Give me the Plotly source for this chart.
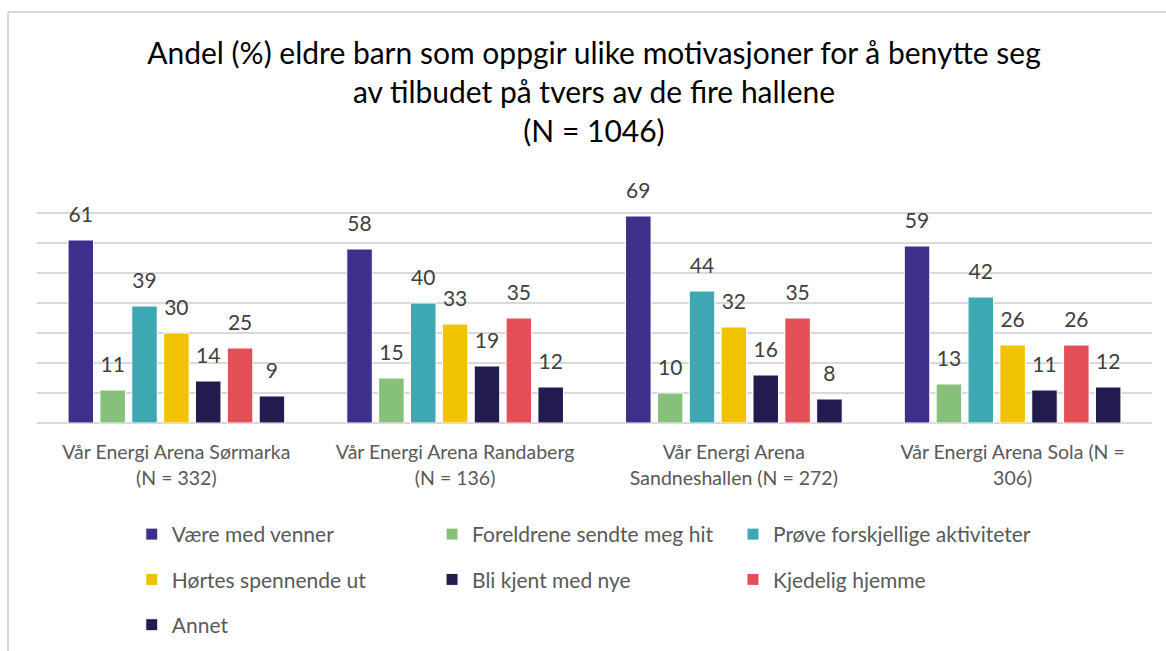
import plotly.graph_objects as go

categories = [
    "Vår Energi Arena Sørmarka<br>(N = 332)",
    "Vår Energi Arena Randaberg<br>(N = 136)",
    "Vår Energi Arena<br>Sandneshallen (N = 272)",
    "Vår Energi Arena Sola (N =<br>306)",
]
series_names = [
    "Være med venner",
    "Foreldrene sendte meg hit",
    "Prøve forskjellige aktiviteter",
    "Hørtes spennende ut",
    "Bli kjent med nye",
    "Kjedelig hjemme",
    "Annet",
]
vaere_med_venner = [61, 58, 69, 59]
foreldrene_sendte = [11, 15, 10, 13]
prove_aktiviteter = [39, 40, 44, 42]
hortes_spennende = [30, 33, 32, 26]
bli_kjent = [14, 19, 16, 11]
kjedelig_hjemme = [25, 35, 35, 26]
annet = [9, 12, 8, 12]
series_values = [vaere_med_venner, foreldrene_sendte, prove_aktiviteter,
                 hortes_spennende, bli_kjent, kjedelig_hjemme, annet]
colors = ["#3E2F8A", "#86C07A", "#3EA8B2", "#F0C200", "#221C4E", "#E24F56", "#231A50"]
# legend columns (one legend per column)
legend_ids = ["legend", "legend2", "legend3", "legend", "legend2", "legend3", "legend"]

FONT = "Lato"
fig = go.Figure()
for i, (name, vals) in enumerate(zip(series_names, series_values)):
    fig.add_trace(go.Bar(
        x=categories, y=vals, name=name, offsetgroup=str(i),
        marker=dict(color=colors[i], line=dict(color="white", width=1)),
        legend=legend_ids[i], legendgroup=name, hoverinfo="skip",
    ))
for i, (name, vals) in enumerate(zip(series_names, series_values)):
    fig.add_trace(go.Scatter(
        x=categories, y=vals, mode="markers+text", offsetgroup=str(i),
        text=[str(v) for v in vals], textposition="top center",
        textfont=dict(family=FONT, size=21, color="#404040"),
        marker=dict(size=19, color="rgba(0,0,0,0)"),
        showlegend=False, hoverinfo="skip", cliponaxis=False,
    ))

leg_common = dict(orientation="v", xanchor="left", yanchor="top",
                  font=dict(family=FONT, size=21, color="#595959"),
                  itemwidth=30, tracegroupgap=15, bgcolor="rgba(0,0,0,0)")
LEG_Y = -0.379
fig.update_layout(
    width=1166, height=651,
    margin=dict(l=37, r=14, t=183, b=228, autoexpand=False),
    paper_bgcolor="white", plot_bgcolor="white",
    barmode="group", bargap=0.2, bargroupgap=0.2,
    scattermode="group", scattergap=0.2,
    title=dict(
        text="Andel (%) eldre barn som oppgir ulike motivasjoner for å benytte seg<br>av tilbudet på tvers av de fire hallene<br>(N = 1046)",
        x=594 / 1166, xanchor="center", y=1 - 64 / 651, yanchor="middle",
        font=dict(family=FONT, size=30, color="#000000"),
    ),
    xaxis=dict(
        showgrid=False, showline=False, zeroline=False,
        ticks="outside", ticklen=12, tickcolor="rgba(0,0,0,0)",
        tickfont=dict(family=FONT, size=19.5, color="#595959"),
    ),
    yaxis=dict(
        range=[0, 80], dtick=10, showticklabels=False,
        showgrid=True, gridcolor="#D9D9D9", gridwidth=2,
        zeroline=True, zerolinecolor="#D9D9D9", zerolinewidth=2,
    ),
    legend=dict(x=0.085, y=LEG_Y, **leg_common),
    legend2=dict(x=0.3543, y=LEG_Y, **leg_common),
    legend3=dict(x=0.6242, y=LEG_Y, **leg_common),
    shapes=[
        dict(type="line", xref="paper", yref="paper", x0=-0.026, x1=1.03, y0=1.7125, y1=1.7125,
             line=dict(color="#D9D9D9", width=2)),
        dict(type="line", xref="paper", yref="paper", x0=-0.026, x1=-0.026, y0=1.7125, y1=-1.0,
             line=dict(color="#D9D9D9", width=2)),
    ],
)
fig.write_html("out.html", config={"displayModeBar": False},
               post_script="document.body.style.margin='0';document.body.style.overflow='hidden';")
